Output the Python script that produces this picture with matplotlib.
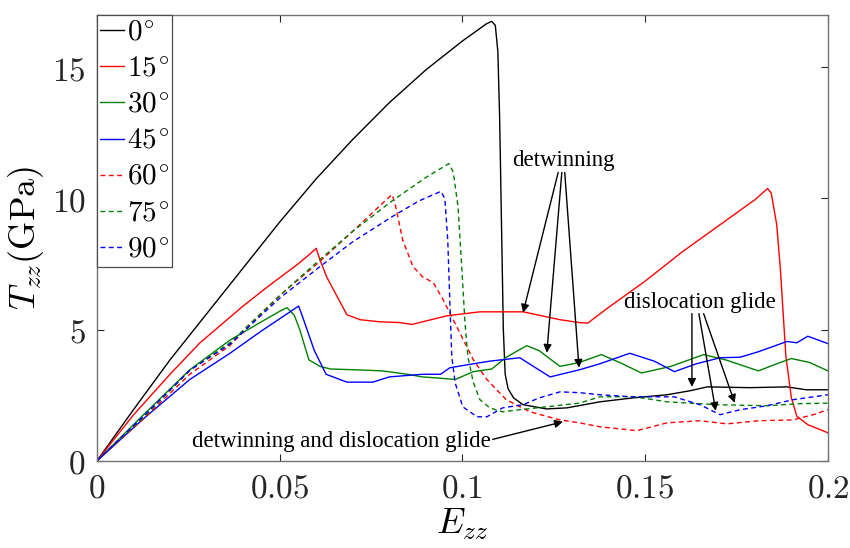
import matplotlib
matplotlib.use('Agg')
import matplotlib.pyplot as plt

plt.rcParams['mathtext.fontset'] = 'cm'

# strain E_zz / stress T_zz (GPa)
e_0 = [0, 0.01, 0.02, 0.03, 0.04, 0.05, 0.06, 0.07, 0.08, 0.09, 0.1, 0.104, 0.1065,
       0.108, 0.109, 0.1097, 0.1102, 0.1107, 0.1112, 0.1117, 0.1125, 0.1140, 0.1166,
       0.123, 0.1286, 0.1376, 0.1467, 0.156, 0.1622, 0.167, 0.1787, 0.1888, 0.194, 0.2]
t_0 = [0, 1.95, 3.85, 5.6, 7.35, 9.1, 10.75, 12.25, 13.65, 14.9, 16.0, 16.4, 16.65,
       16.75, 16.6, 15.6, 13.0, 9.0, 5.0, 3.3, 2.75, 2.4, 2.14,
       1.98, 2.02, 2.25, 2.4, 2.52, 2.67, 2.82, 2.79, 2.82, 2.71, 2.71]

e_15 = [0, 0.01, 0.02, 0.0282, 0.04, 0.0473, 0.055, 0.058, 0.060, 0.061, 0.0629,
        0.0657, 0.0684, 0.072, 0.0774, 0.0829, 0.0862, 0.0958, 0.1048, 0.1166,
        0.1267, 0.132, 0.1343, 0.14, 0.15, 0.16, 0.17, 0.18, 0.1835, 0.1845,
        0.186, 0.187, 0.1885, 0.190, 0.1915, 0.1945, 0.2]
t_15 = [0, 1.75, 3.3, 4.5, 5.9, 6.7, 7.5, 7.85, 8.1, 7.67, 7.0,
        6.27, 5.57, 5.38, 5.3, 5.27, 5.2, 5.53, 5.68, 5.68,
        5.38, 5.27, 5.25, 5.85, 6.85, 7.95, 8.95, 9.95, 10.38, 10.2,
        9.0, 7.3, 4.0, 2.4, 1.7, 1.38, 1.07]

e_30 = [0, 0.0127, 0.0254, 0.0364, 0.045, 0.05, 0.052, 0.054, 0.0555, 0.058, 0.061,
        0.064, 0.071, 0.078, 0.085, 0.089, 0.094, 0.098, 0.103, 0.108, 0.112,
        0.1176, 0.121, 0.1267, 0.132, 0.138, 0.143, 0.149, 0.157, 0.166, 0.172,
        0.181, 0.186, 0.190, 0.195, 0.2]
t_30 = [0, 1.75, 3.47, 4.6, 5.3, 5.7, 5.84, 5.55, 5.0, 3.85, 3.6,
        3.5, 3.47, 3.43, 3.3, 3.2, 3.15, 3.1, 3.4, 3.5, 3.95,
        4.39, 4.2, 3.6, 3.75, 4.05, 3.75, 3.35, 3.6, 4.05, 3.85,
        3.43, 3.7, 3.9, 3.75, 3.43]

e_45 = [0, 0.0127, 0.0254, 0.0364, 0.045, 0.0552, 0.0565, 0.0595, 0.0627, 0.0684,
        0.0755, 0.080, 0.089, 0.094, 0.0966, 0.103, 0.1075, 0.1157, 0.12, 0.124,
        0.132, 0.1376, 0.1458, 0.1525, 0.158, 0.164, 0.1705, 0.176, 0.181,
        0.1888, 0.1915, 0.1945, 0.2]
t_45 = [0, 1.6, 3.1, 4.1, 4.95, 5.9, 5.4, 4.2, 3.3, 3.0,
        3.0, 3.2, 3.3, 3.3, 3.55, 3.7, 3.8, 3.93, 3.55, 3.2,
        3.47, 3.7, 4.1, 3.8, 3.4, 3.7, 3.93, 3.95, 4.16,
        4.55, 4.5, 4.75, 4.47]

e_60 = [0, 0.0127, 0.0254, 0.0364, 0.05, 0.061, 0.07, 0.0807, 0.0815, 0.0837,
        0.0865, 0.0892, 0.092, 0.0947, 0.0985, 0.103, 0.1067, 0.112, 0.1185,
        0.1267, 0.132, 0.1376, 0.1477, 0.156, 0.165, 0.1724, 0.181, 0.1904,
        0.196, 0.2]
t_60 = [0, 1.6, 3.3, 4.4, 6.3, 7.6, 8.75, 10.15, 9.85, 8.4,
        7.4, 7.0, 6.8, 6.15, 5.1, 3.85, 3.1, 2.33, 1.87,
        1.56, 1.45, 1.3, 1.15, 1.45, 1.53, 1.41, 1.53, 1.56,
        1.76, 1.95]

e_75 = [0, 0.0127, 0.0254, 0.0364, 0.05, 0.061, 0.07, 0.0807, 0.09, 0.0963,
        0.0975, 0.0988, 0.0999, 0.1007, 0.1015, 0.103, 0.1048, 0.1075, 0.111,
        0.1157, 0.123, 0.132, 0.1376, 0.1467, 0.156, 0.1696, 0.1833, 0.1923, 0.2]
t_75 = [0, 1.65, 3.45, 4.5, 6.3, 7.67, 8.75, 9.9, 10.8, 11.33,
        11.0, 9.7, 7.2, 5.27, 3.97, 2.98, 2.33, 2.02, 1.87,
        1.95, 2.06, 2.2, 2.44, 2.45, 2.25, 2.14, 2.1, 2.18, 2.2]

e_90 = [0, 0.0127, 0.0254, 0.0364, 0.05, 0.061, 0.07, 0.0807, 0.088, 0.0941,
        0.0952, 0.096, 0.0966, 0.0971, 0.098, 0.1001, 0.104, 0.1067, 0.111,
        0.1166, 0.121, 0.1267, 0.132, 0.1376, 0.1467, 0.158, 0.165, 0.1705,
        0.176, 0.1833, 0.1904, 0.196, 0.2]
t_90 = [0, 1.7, 3.45, 4.45, 6.2, 7.4, 8.35, 9.3, 9.9, 10.27,
        10.0, 8.4, 5.9, 3.97, 2.98, 2.06, 1.68, 1.68, 2.02,
        2.14, 2.4, 2.63, 2.6, 2.52, 2.44, 2.44, 2.14, 1.76,
        1.95, 2.1, 2.33, 2.44, 2.52]

labels = [r'$0^{\!\circ}$', r'$15^{\!\circ}$', r'$30^{\!\circ}$', r'$45^{\!\circ}$',
          r'$60^{\!\circ}$', r'$75^{\!\circ}$', r'$90^{\!\circ}$']

x_ticks = [0, 0.05, 0.1, 0.15, 0.2]
x_tick_labels = ['$0$', '$0.05$', '$0.1$', '$0.15$', '$0.2$']
y_ticks = [0, 5, 10, 15]
y_tick_labels = ['$0$', '$5$', '$10$', '$15$']

series = [(e_0, t_0, 'k', '-'), (e_15, t_15, 'r', '-'), (e_30, t_30, '#008000', '-'),
          (e_45, t_45, 'b', '-'), (e_60, t_60, 'r', '--'), (e_75, t_75, '#008000', '--'),
          (e_90, t_90, 'b', '--')]

fig = plt.figure(figsize=(8.5, 5.48), dpi=100)
ax = fig.add_axes([0.114, 0.159, 0.86, 0.814])

for (e, t, c, ls), lab in zip(series, labels):
    if ls == '--':
        ax.plot(e, t, color=c, linestyle=(0, (3.5, 2.5)), linewidth=1.0, label=lab)
    else:
        ax.plot(e, t, color=c, linestyle=ls, linewidth=1.0, label=lab)

ax.set_xlim(0, 0.2)
ax.set_ylim(0, 17)
ax.set_xticks(x_ticks)
ax.set_xticklabels(x_tick_labels)
ax.set_yticks(y_ticks)
ax.set_yticklabels(y_tick_labels)
ax.tick_params(direction='in', length=5, width=0.8, top=True, right=True,
               labelsize=24, colors='0.15', pad=8)
for sp in ax.spines.values():
    sp.set_color('0.45')
    sp.set_linewidth(1.0)

ax.set_xlabel(r'$E_{zz}$', fontsize=26, labelpad=1)
ax.set_ylabel(r'$T_{zz}(\mathrm{GPa})$', fontsize=26, labelpad=4)

leg = ax.legend(loc='upper left', fontsize=21, handlelength=0.8, handletextpad=0.1,
                labelspacing=0.28, borderpad=0.12, borderaxespad=0.0,
                fancybox=False, framealpha=1)
leg.get_frame().set_edgecolor('0.3')
leg.get_frame().set_linewidth(0.9)

ann_font = dict(family='Liberation Serif', size=16.5)
arrow = dict(arrowstyle='-|>', color='k', lw=1.0, mutation_scale=12, shrinkA=0, shrinkB=0)

ax.text(0.1275, 11.45, 'detwinning', ha='center', va='center', **ann_font)
for tail, head in [((0.1262, 10.99), (0.1166, 5.65)),
                   ((0.1272, 10.99), (0.1231, 4.12)),
                   ((0.1280, 10.99), (0.1319, 3.55))]:
    ax.annotate('', xy=head, xytext=tail, arrowprops=arrow)

ax.text(0.1650, 6.05, 'dislocation glide', ha='center', va='center', **ann_font)
for tail, head in [((0.1628, 5.61), (0.1628, 2.82)),
                   ((0.1647, 5.61), (0.1693, 1.91)),
                   ((0.1660, 5.61), (0.1745, 2.21))]:
    ax.annotate('', xy=head, xytext=tail, arrowprops=arrow)

ax.text(0.0670, 0.73, 'detwinning and dislocation glide', ha='center', va='center', **ann_font)
ax.annotate('', xy=(0.1275, 1.49), xytext=(0.1083, 0.82), arrowprops=arrow)

fig.savefig('out.png', dpi=100)
